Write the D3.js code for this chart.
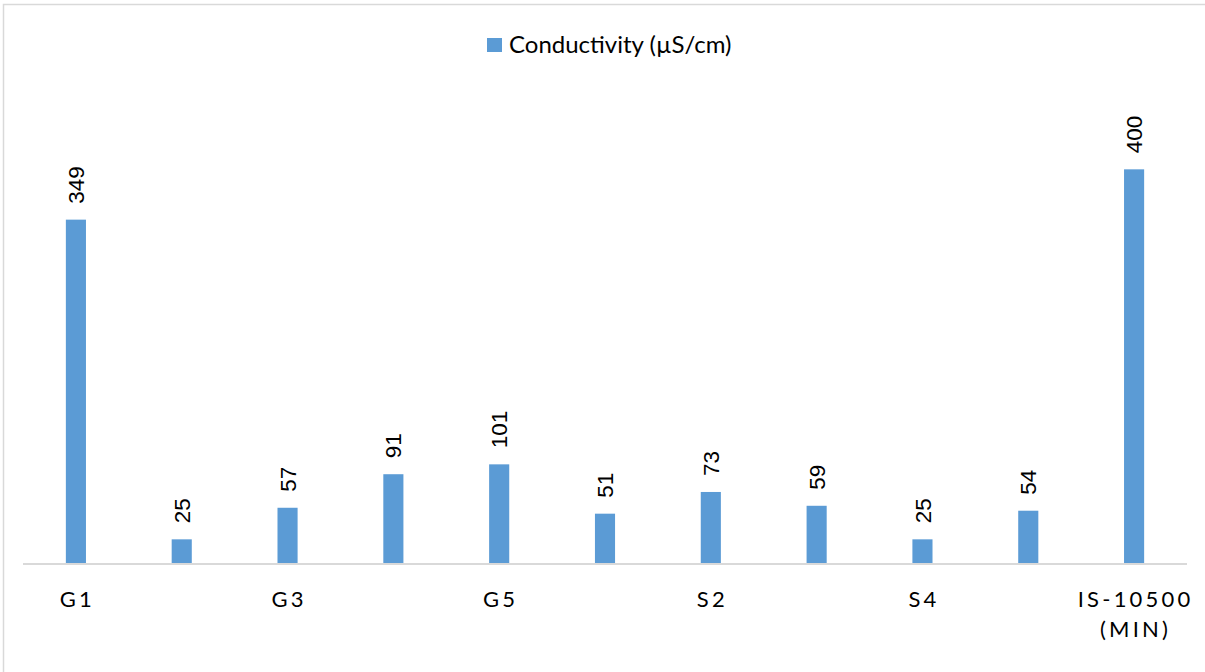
<!DOCTYPE html>
<html>
<head>
<meta charset="utf-8">
<script src="https://cdn.jsdelivr.net/npm/d3@7"></script>
<style>
  html, body { margin: 0; padding: 0; background: #fff; }
  svg { display: block; }
</style>
</head>
<body>
<svg id="chart" width="1205" height="672"></svg>
<script>
// Conductivity per sampling site, with the IS-10500 minimum limit as the last bar
const categories = ["G1", "G2", "G3", "G4", "G5", "S1", "S2", "S3", "S4", "S5", "IS-10500 (MIN)"];
const conductivity = [349, 25, 57, 91, 101, 51, 73, 59, 25, 54, 400];
const seriesName = "Conductivity (µS/cm)";
const yDomain = [0, 450];

const W = 1205, H = 672;
const barColor = "#5b9bd5";
const gridColor = "#d9d9d9";
const margin = { left: 23, right: 18, top: 120, baselineY: 564 };

const svg = d3.select("#chart");

// Chart frame
svg.append("rect")
  .attr("x", 3.5).attr("y", 4.5)
  .attr("width", W + 10).attr("height", H + 10)
  .attr("fill", "none").attr("stroke", gridColor).attr("stroke-width", 1.5);

const x = d3.scaleBand()
  .domain(categories)
  .range([margin.left, W - margin.right])
  .paddingInner(0.81)
  .paddingOuter(0.405);

const y = d3.scaleLinear()
  .domain(yDomain)
  .range([margin.baselineY, margin.top]);

const data = categories.map((c, i) => ({ cat: c, value: conductivity[i] }));

// Bars
svg.append("g").selectAll("rect")
  .data(data)
  .join("rect")
  .attr("x", d => x(d.cat))
  .attr("y", d => y(d.value))
  .attr("width", x.bandwidth())
  .attr("height", d => y(0) - y(d.value))
  .attr("fill", barColor);

// Category axis: baseline plus every other label
const xAxis = d3.axisBottom(x)
  .tickValues(categories.filter((c, i) => i % 2 === 0))
  .tickSize(0)
  .tickPadding(0);

const axisG = svg.append("g")
  .attr("transform", `translate(0,${margin.baselineY})`)
  .call(xAxis);

axisG.select(".domain").remove();
axisG.append("line")
  .attr("x1", margin.left).attr("x2", W - margin.right)
  .attr("y1", 0).attr("y2", 0)
  .attr("stroke", gridColor).attr("stroke-width", 2);

axisG.selectAll(".tick text")
  .attr("fill", "#000")
  .attr("font-family", "Lato, 'Open Sans', sans-serif")
  .attr("font-size", 22)
  .attr("letter-spacing", "3.2px")
  .attr("text-anchor", "middle")
  .attr("y", 43)
  .attr("dy", 0)
  .each(function(d) {
    const t = d3.select(this);
    const words = d.split(" ");
    t.text(null);
    words.forEach((w, k) => {
      t.append("tspan")
        .attr("x", 1.5)
        .attr("dy", k === 0 ? 0 : 30)
        .text(w);
    });
  });

// Value labels, rotated above each bar
svg.append("g").selectAll("text")
  .data(data)
  .join("text")
  .attr("transform", d => `translate(${x(d.cat) + x.bandwidth() / 2},${y(d.value) - 16}) rotate(-90)`)
  .attr("dy", "0.36em")
  .attr("text-anchor", "start")
  .attr("font-family", "'Liberation Sans', Arial, sans-serif")
  .attr("font-size", 22.5)
  .attr("fill", "#000")
  .text(d => d.value);

// Legend
const legend = svg.append("g");
legend.append("rect")
  .attr("x", 487).attr("y", 38)
  .attr("width", 15).attr("height", 14)
  .attr("fill", barColor);
legend.append("text")
  .attr("x", 509).attr("y", 53)
  .attr("font-family", "Lato, 'Open Sans', sans-serif")
  .attr("font-size", 24)
  .attr("fill", "#000")
  .text(seriesName);
</script>
</body>
</html>
